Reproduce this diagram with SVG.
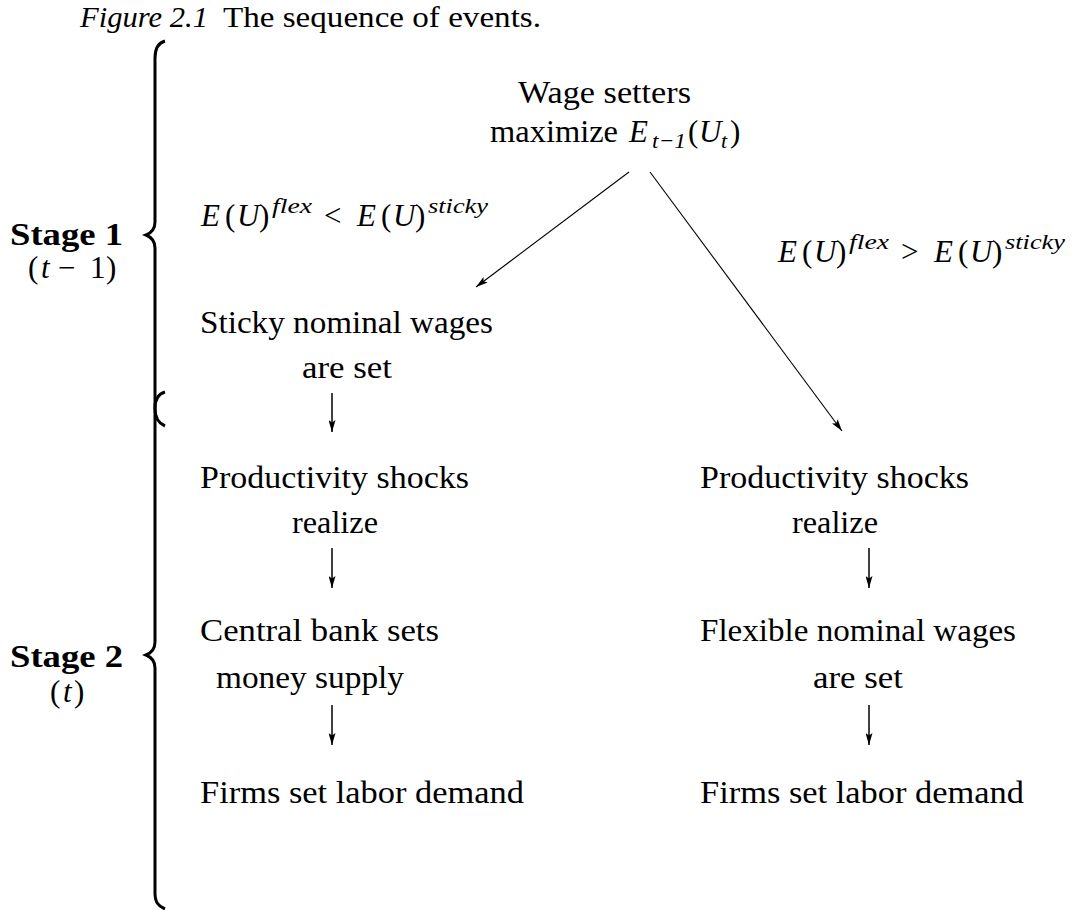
<svg xmlns="http://www.w3.org/2000/svg" width="1075" height="910" viewBox="0 0 1075 910">
<style>
text{font-family:"Liberation Serif","Times New Roman",serif;font-size:31px;fill:#000}
.it{font-style:italic}
.b{font-weight:bold}
.s{font-size:22px;font-style:italic}
.t{font-size:29px}
.brace{fill:none;stroke:#000;stroke-width:3}
.edge{fill:none;stroke:#000;stroke-width:1.1}
.vedge{fill:none;stroke:#000;stroke-width:1.5}
</style>
<defs>
<marker id="ah" viewBox="0 0 12 7" refX="12" refY="3.5" markerWidth="12" markerHeight="7" markerUnits="userSpaceOnUse" orient="auto">
<path d="M0,0 L12,3.5 L0,7 L2.5,3.5 Z" fill="#000"/>
</marker>
</defs>
<rect width="1075" height="910" fill="#fff"/>
<g id="title">
<text class="it t" x="80" y="27" textLength="128" lengthAdjust="spacingAndGlyphs">Figure 2.1</text>
<text class="t" x="223" y="27" textLength="318" lengthAdjust="spacingAndGlyphs">The sequence of events.</text>
</g>
<g id="braces">
<path class="brace" d="M165,41 C158,43 155,48 155,58 L155,222 C155,229 151,233 146,235 C151,237 155,241 155,248 L155,409 C155,418 158,423 165,426"/>
<path class="brace" d="M165,392 C158,394 155,399 155,408 L155,642 C155,649 151,653 146,655 C151,657 155,661 155,668 L155,893 C155,902 158,906 165,909"/>
</g>
<g id="stage1">
<text class="b" x="10" y="245" textLength="113" lengthAdjust="spacingAndGlyphs">Stage 1</text>
<text y="278"><tspan x="28">(</tspan><tspan class="it" x="41">t</tspan><tspan x="58">−</tspan><tspan x="90">1</tspan><tspan x="106">)</tspan></text>
</g>
<g id="stage2">
<text class="b" x="10" y="667" textLength="113" lengthAdjust="spacingAndGlyphs">Stage 2</text>
<text y="702"><tspan x="50">(</tspan><tspan class="it" x="63">t</tspan><tspan x="74">)</tspan></text>
</g>
<g id="wage-setters">
<text x="518" y="103" textLength="173" lengthAdjust="spacingAndGlyphs">Wage setters</text>
<text x="490" y="142" textLength="128" lengthAdjust="spacingAndGlyphs">maximize</text>
<text class="it" x="629" y="142">E</text>
<text class="s" x="652" y="148" textLength="34" lengthAdjust="spacingAndGlyphs">t−1</text>
<text x="688" y="142">(</text>
<text class="it" x="699" y="142">U</text>
<text class="s" x="721" y="148">t</text>
<text x="730" y="142">)</text>
</g>
<g id="cond-sticky">
<text class="it" x="201" y="226">E</text>
<text x="225" y="226">(</text>
<text class="it" x="237" y="226">U</text>
<text x="259" y="226">)</text>
<text class="s" x="272" y="213" textLength="40" lengthAdjust="spacingAndGlyphs">flex</text>
<text x="324" y="226">&lt;</text>
<text class="it" x="357" y="226">E</text>
<text x="381" y="226">(</text>
<text class="it" x="393" y="226">U</text>
<text x="415" y="226">)</text>
<text class="s" x="428" y="213" textLength="60" lengthAdjust="spacingAndGlyphs">sticky</text>
</g>
<g id="cond-flex">
<text class="it" x="778" y="262">E</text>
<text x="802" y="262">(</text>
<text class="it" x="814" y="262">U</text>
<text x="836" y="262">)</text>
<text class="s" x="849" y="249" textLength="40" lengthAdjust="spacingAndGlyphs">flex</text>
<text x="901" y="262">&gt;</text>
<text class="it" x="934" y="262">E</text>
<text x="958" y="262">(</text>
<text class="it" x="970" y="262">U</text>
<text x="992" y="262">)</text>
<text class="s" x="1005" y="249" textLength="60" lengthAdjust="spacingAndGlyphs">sticky</text>
</g>
<g id="sticky-wages">
<text x="200" y="333" textLength="293" lengthAdjust="spacingAndGlyphs">Sticky nominal wages</text>
<text x="302" y="378" textLength="90" lengthAdjust="spacingAndGlyphs">are set</text>
</g>
<g id="shocks-left">
<text x="200" y="488" textLength="269" lengthAdjust="spacingAndGlyphs">Productivity shocks</text>
<text x="292" y="533" textLength="86" lengthAdjust="spacingAndGlyphs">realize</text>
</g>
<g id="central-bank">
<text x="200" y="641" textLength="239" lengthAdjust="spacingAndGlyphs">Central bank sets</text>
<text x="216" y="688" textLength="188" lengthAdjust="spacingAndGlyphs">money supply</text>
</g>
<g id="firms-left">
<text x="200" y="803" textLength="324" lengthAdjust="spacingAndGlyphs">Firms set labor demand</text>
</g>
<g id="shocks-right">
<text x="700" y="488" textLength="269" lengthAdjust="spacingAndGlyphs">Productivity shocks</text>
<text x="792" y="533" textLength="86" lengthAdjust="spacingAndGlyphs">realize</text>
</g>
<g id="flexible-wages">
<text x="700" y="641" textLength="316" lengthAdjust="spacingAndGlyphs">Flexible nominal wages</text>
<text x="813" y="688" textLength="90" lengthAdjust="spacingAndGlyphs">are set</text>
</g>
<g id="firms-right">
<text x="700" y="803" textLength="324" lengthAdjust="spacingAndGlyphs">Firms set labor demand</text>
</g>
<g id="connectors">
<line class="edge" x1="629" y1="172" x2="476" y2="287" marker-end="url(#ah)"/>
<line class="edge" x1="650" y1="172" x2="842" y2="431" marker-end="url(#ah)"/>
<line class="vedge" x1="332" y1="393" x2="332" y2="432" marker-end="url(#ah)"/>
<line class="vedge" x1="332" y1="548" x2="332" y2="588" marker-end="url(#ah)"/>
<line class="vedge" x1="332" y1="705" x2="332" y2="745" marker-end="url(#ah)"/>
<line class="vedge" x1="869" y1="548" x2="869" y2="588" marker-end="url(#ah)"/>
<line class="vedge" x1="869" y1="705" x2="869" y2="745" marker-end="url(#ah)"/>
</g>
</svg>
